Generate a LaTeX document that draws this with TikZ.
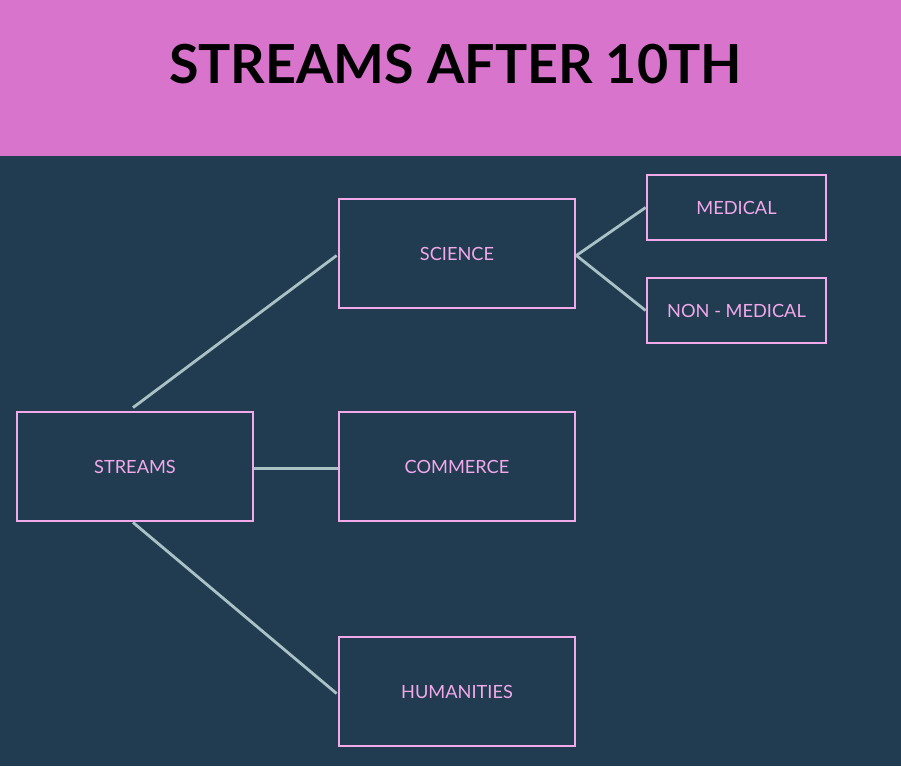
\documentclass[tikz,border=0pt]{standalone}
\usepackage{fontspec}
\setmainfont{Lato}
\definecolor{bg}{HTML}{213B51}
\definecolor{band}{HTML}{D974CD}
\definecolor{pinkb}{HTML}{F2A9EA}
\definecolor{link}{HTML}{A8C2C6}
\begin{document}
\begin{tikzpicture}[x=1pt,y=-1pt,
  box/.style={draw=pinkb,line width=2.8pt,fill=bg,text=pinkb,inner sep=0pt,font=\fontsize{18.2}{21}\selectfont},
  bigbox/.style={box,minimum width=236pt,minimum height=109pt},
  smallbox/.style={box,minimum width=179pt,minimum height=65pt},
  conn/.style={draw=link,line width=2.8pt}]
\fill[bg] (0,0) rectangle (901,766);
\fill[band] (0,0) rectangle (901,156);
\useasboundingbox (0,0) rectangle (901,766);
\node[font=\fontsize{53.8}{60}\selectfont\bfseries,text=black] (title) at (455.5,64) {STREAMS AFTER 10TH};
\node[bigbox] (streams) at (135,466.5) {STREAMS};
\node[bigbox] (science) at (457,253.5) {SCIENCE};
\node[bigbox] (commerce) at (457,466.5) {COMMERCE};
\node[bigbox] (humanities) at (457,691.5) {HUMANITIES};
\node[smallbox] (medical) at (736.5,207.5) {MEDICAL};
\node[smallbox] (nonmedical) at (736.5,310.5) {NON - MEDICAL};
\draw[conn] ([xshift=-2pt,yshift=3pt]streams.north) -- ([xshift=-1pt,yshift=-2pt]science.west);
\draw[conn] ([yshift=-2pt]streams.east) -- ([yshift=-2pt]commerce.west);
\draw[conn] ([xshift=-2pt]streams.south) -- ([xshift=-1pt,yshift=-2pt]humanities.west);
\draw[conn] ([yshift=-2pt]science.east) -- (medical.west);
\draw[conn] ([yshift=-2pt]science.east) -- (nonmedical.west);
\end{tikzpicture}
\end{document}
